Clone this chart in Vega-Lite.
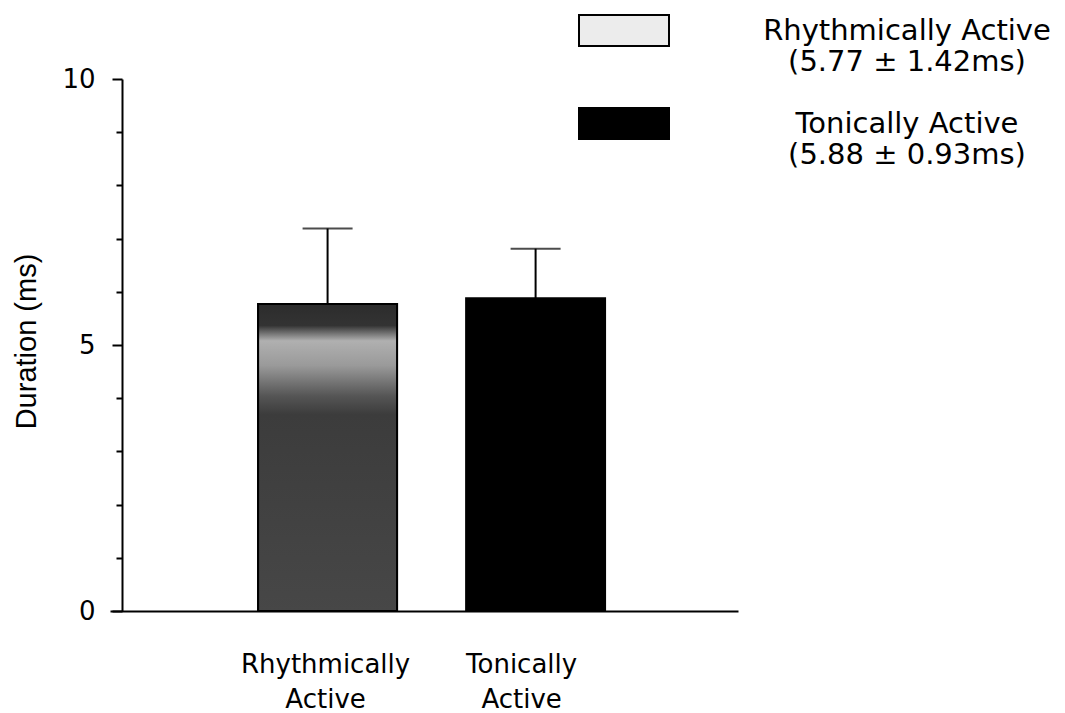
{
  "$schema": "https://vega.github.io/schema/vega-lite/v6.json",
  "width": 628,
  "height": 532,
  "autosize": {"type": "none"},
  "padding": {"left": 110, "top": 79, "right": 327, "bottom": 102},
  "background": "white",
  "config": {"view": {"stroke": null}, "font": "DejaVu Sans"},
  "data": {
    "values": [
      {"group": "Rhythmically Active", "mean": 5.77, "sd": 1.42, "upper": 7.19},
      {"group": "Tonically Active", "mean": 5.88, "sd": 0.93, "upper": 6.81}
    ]
  },
  "encoding": {
    "x": {
      "field": "group",
      "type": "nominal",
      "sort": null,
      "scale": {"type": "band", "paddingInner": 0.332, "paddingOuter": 0.6755, "align": 0.527},
      "axis": {
        "title": null,
        "labelExpr": "split(datum.label, ' ')",
        "labelAngle": 0,
        "labelFont": "DejaVu Sans",
        "labelFontSize": 26,
        "labelColor": "black",
        "labelLineHeight": 35,
        "labelBaseline": "top",
        "labelPadding": 40,
        "ticks": false,
        "tickSize": 0,
        "domainColor": "black",
        "domainWidth": 2,
        "labelOffset": {"condition": {"test": "datum.value === 'Tonically Active'", "value": -14}, "value": -2}
      }
    }
  },
  "layer": [
    {
      "mark": {"type": "bar", "stroke": "black", "strokeWidth": 2},
      "encoding": {
        "y": {
          "field": "mean",
          "type": "quantitative",
          "scale": {"domain": [0, 10], "nice": false},
          "axis": {
            "title": "Duration (ms)",
            "values": [0, 1, 2, 3, 4, 5, 6, 7, 8, 9, 10],
            "labelExpr": "datum.value % 5 === 0 ? datum.label : ''",
            "tickSize": {"condition": {"test": "datum.value % 5 === 0", "value": 10}, "value": 6},
            "tickWidth": 2,
            "tickColor": "black",
            "domainColor": "black",
            "domainWidth": 2,
            "grid": false,
            "labelFont": "DejaVu Sans",
            "labelFontSize": 26,
            "labelColor": "black",
            "labelPadding": 17,
            "offset": -12,
            "titleFont": "Liberation Sans",
            "titleFontSize": 29,
            "titleFontWeight": "normal",
            "titleColor": "black",
            "titleX": -87,
            "titleY": 262,
            "titleAngle": 270,
            "titleAlign": "center",
            "titleBaseline": "alphabetic"
          }
        },
        "fill": {
          "field": "group",
          "type": "nominal",
          "scale": {"domain": ["Rhythmically Active", "Tonically Active"], "range": ["#ececec", "#000000"]},
          "legend": {
            "title": null,
            "orient": "none",
            "legendX": 468,
            "legendY": -94.5,
            "padding": 0,
            "symbolType": "M-1,-0.3444H1V0.3444H-1Z",
            "symbolSize": 8100,
            "symbolStrokeColor": "black",
            "symbolStrokeWidth": 2,
            "symbolOpacity": 1,
            "labelFont": "DejaVu Sans",
            "labelFontSize": 29,
            "labelColor": "black",
            "labelAlign": "center",
            "labelBaseline": "middle",
            "labelOffset": 237,
            "labelLimit": 0,
            "labelLineHeight": 30,
            "rowPadding": 1,
            "labelExpr": "datum.label === 'Rhythmically Active' ? ['Rhythmically Active', '(5.77 ± 1.42ms)'] : ['Tonically Active', '(5.88 ± 0.93ms)']"
          }
        }
      }
    },
    {
      "transform": [{"filter": "datum.group === 'Rhythmically Active'"}],
      "mark": {
        "type": "bar",
        "stroke": "black",
        "strokeWidth": 2,
        "fill": {
          "gradient": "linear",
          "x1": 0, "y1": 0, "x2": 0, "y2": 1,
          "stops": [
            {"offset": 0, "color": "#2c2c2c"},
            {"offset": 0.07, "color": "#333333"},
            {"offset": 0.12, "color": "#b0b0b0"},
            {"offset": 0.2, "color": "#9a9a9a"},
            {"offset": 0.3, "color": "#555555"},
            {"offset": 0.36, "color": "#3c3c3c"},
            {"offset": 1, "color": "#474747"}
          ]
        }
      },
      "encoding": {
        "y": {"field": "mean", "type": "quantitative", "title": "Duration (ms)"}
      }
    },
    {
      "mark": {"type": "rule", "strokeWidth": 2, "color": "black"},
      "encoding": {
        "y": {"field": "mean", "type": "quantitative", "title": "Duration (ms)"},
        "y2": {"field": "upper"}
      }
    },
    {
      "mark": {"type": "tick", "thickness": 2, "size": 50, "color": "black", "orient": "horizontal"},
      "encoding": {
        "y": {"field": "upper", "type": "quantitative", "title": "Duration (ms)"}
      }
    }
  ]
}
